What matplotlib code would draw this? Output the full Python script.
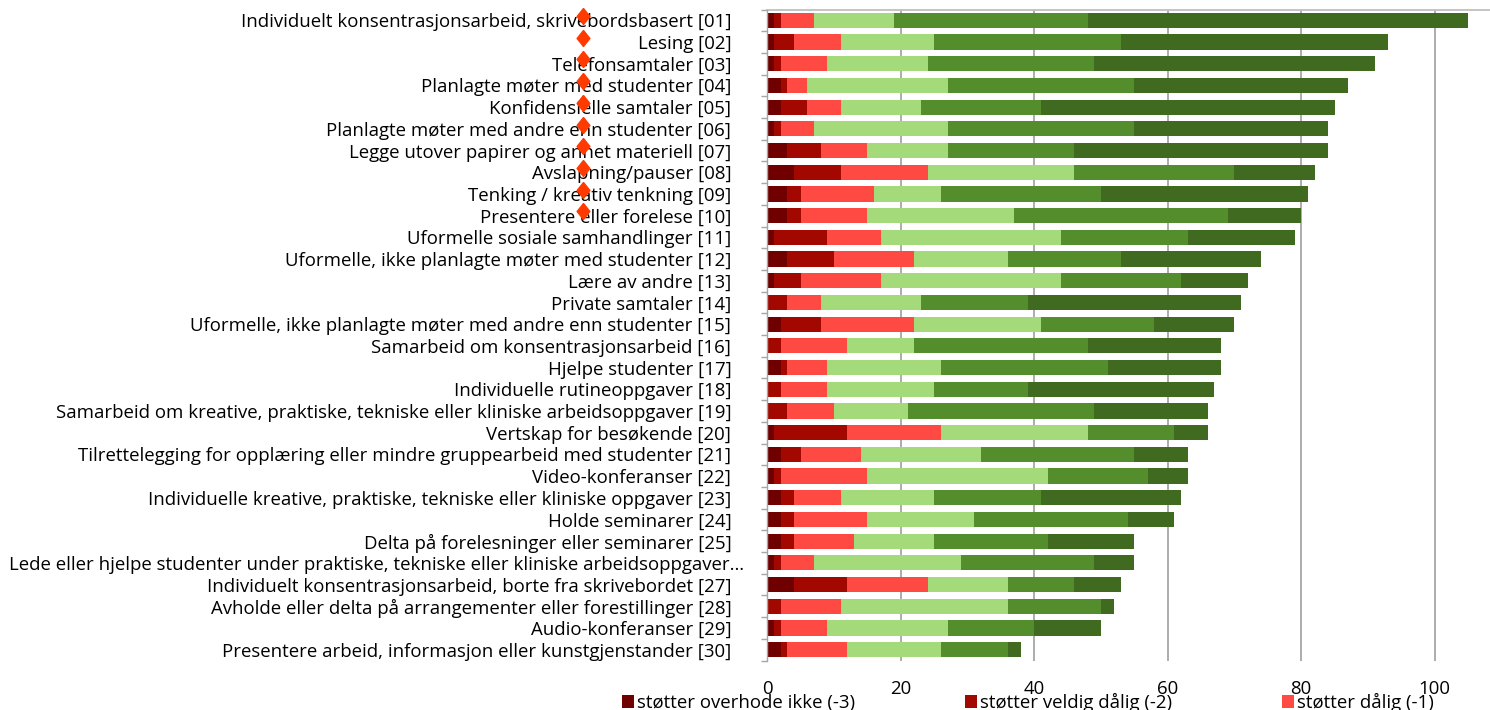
import matplotlib
matplotlib.use("Agg")
import matplotlib.pyplot as plt
from matplotlib.patches import Patch
from matplotlib.transforms import ScaledTranslation
import numpy as np

plt.rcParams['font.family'] = ['Open Sans', 'DejaVu Sans']

categories = [
    "Individuelt konsentrasjonsarbeid, skrivebordsbasert [01]",
    "Lesing [02]",
    "Telefonsamtaler [03]",
    "Planlagte møter med studenter [04]",
    "Konfidensielle samtaler [05]",
    "Planlagte møter med andre enn studenter [06]",
    "Legge utover papirer og annet materiell [07]",
    "Avslapning/pauser [08]",
    "Tenking / kreativ tenkning [09]",
    "Presentere eller forelese [10]",
    "Uformelle sosiale samhandlinger [11]",
    "Uformelle, ikke planlagte møter med studenter [12]",
    "Lære av andre [13]",
    "Private samtaler [14]",
    "Uformelle, ikke planlagte møter med andre enn studenter [15]",
    "Samarbeid om konsentrasjonsarbeid [16]",
    "Hjelpe studenter [17]",
    "Individuelle rutineoppgaver [18]",
    "Samarbeid om kreative, praktiske, tekniske eller kliniske arbeidsoppgaver [19]",
    "Vertskap for besøkende [20]",
    "Tilrettelegging for opplæring eller mindre gruppearbeid med studenter [21]",
    "Video-konferanser [22]",
    "Individuelle kreative, praktiske, tekniske eller kliniske oppgaver [23]",
    "Holde seminarer [24]",
    "Delta på forelesninger eller seminarer [25]",
    "Lede eller hjelpe studenter under praktiske, tekniske eller kliniske arbeidsoppgaver…",
    "Individuelt konsentrasjonsarbeid, borte fra skrivebordet [27]",
    "Avholde eller delta på arrangementer eller forestillinger [28]",
    "Audio-konferanser [29]",
    "Presentere arbeid, informasjon eller kunstgjenstander [30]",
]

series_names = [
    "støtter overhode ikke (-3)",
    "støtter veldig dålig (-2)",
    "støtter dålig (-1)",
    "støtter godt (1)",
    "støtter veldig godt (2)",
    "støtter svært godt (3)",
]

s_minus3 = [1, 1, 1, 2, 2, 1, 3, 4, 3, 3, 1, 3, 1, 0, 2, 0, 2, 0, 0, 1, 2, 1, 2, 2, 2, 1, 4, 0, 1, 2]
s_minus2 = [1, 3, 1, 1, 4, 1, 5, 7, 2, 2, 8, 7, 4, 3, 6, 2, 1, 2, 3, 11, 3, 1, 2, 2, 2, 1, 8, 2, 1, 1]
s_minus1 = [5, 7, 7, 3, 5, 5, 7, 13, 11, 10, 8, 12, 12, 5, 14, 10, 6, 7, 7, 14, 9, 13, 7, 11, 9, 5, 12, 9, 7, 9]
s_plus1 = [12, 14, 15, 21, 12, 20, 12, 22, 10, 22, 27, 14, 27, 15, 19, 10, 17, 16, 11, 22, 18, 27, 14, 16, 12, 22, 12, 25, 18, 14]
s_plus2 = [29, 28, 25, 28, 18, 28, 19, 24, 24, 32, 19, 17, 18, 16, 17, 26, 25, 14, 28, 13, 23, 15, 16, 23, 17, 20, 10, 14, 13, 10]
s_plus3 = [57, 40, 42, 32, 44, 29, 38, 12, 31, 11, 16, 21, 10, 32, 12, 20, 17, 28, 17, 5, 8, 6, 21, 7, 13, 6, 7, 2, 10, 2]

# red diamond markers (second series, shown for the first ten categories)
diamond_values = [-27.6, -27.6, -27.6, -27.6, -27.6, -27.6, -27.6, -27.6, -27.6, -27.6]

colors = ["#700000", "#A30800", "#FF4A44", "#A5DA7B", "#548D2C", "#3F6A20"]
x_ticks = [0, 20, 40, 60, 80, 100]
FS = 13.4

fig = plt.figure(figsize=(14.9, 7.1), dpi=100)
ax = fig.add_axes([767.4 / 1490, 1 - 660.5 / 710, 1 - 767.4 / 1490, (660.5 - 9.5) / 710])

y = np.arange(len(categories))
left = np.zeros(len(categories))
all_series = [s_minus3, s_minus2, s_minus1, s_plus1, s_plus2, s_plus3]
for vals, col, name in zip(all_series, colors, series_names):
    vals = np.array(vals, dtype=float)
    ax.barh(y, vals, left=left, height=0.7, color=col, label=name,
            edgecolor='none', zorder=3)
    left += vals

ax.set_ylim(len(categories) - 0.5, -0.5)
ax.set_xlim(0, 108.3)

ax.set_yticks(y)
ax.set_yticklabels(categories, fontsize=FS, color='#000000')
ax.set_yticks(np.arange(-0.5, len(categories) + 0.5, 1), minor=True)
ax.tick_params(axis='y', which='major', length=0, pad=26)
ax.tick_params(axis='y', which='minor', length=4, width=1, color='#A6A6A6', direction='out')

# the truncated label (with ellipsis) overflows slightly to the right, as in the original
for lbl in ax.get_yticklabels():
    if lbl.get_text().endswith("…"):
        lbl.set_transform(lbl.get_transform() + ScaledTranslation(13 / 100, 0, fig.dpi_scale_trans))

ax.set_xticks(x_ticks)
ax.set_xticklabels([str(t) for t in x_ticks], fontsize=FS)
ax.tick_params(axis='x', which='major', length=0, pad=14)

ax.grid(axis='x', color='#A6A6A6', linewidth=1.3, zorder=0)
ax.set_axisbelow(True)

for side in ['right', 'bottom']:
    ax.spines[side].set_visible(False)
ax.spines['left'].set_color('#A6A6A6')
ax.spines['left'].set_linewidth(1.0)
ax.spines['left'].set_zorder(4)
ax.spines['top'].set_color('#BFBFBF')
ax.spines['top'].set_linewidth(1.3)

diamond = [(0, 1), (0.8, 0), (0, -1), (-0.8, 0), (0, 1)]
ax.plot(diamond_values, y[:len(diamond_values)] - 0.2, linestyle='none',
        marker=diamond, markersize=11.5, color='#FF3A00', clip_on=False, zorder=10)

handles = [Patch(facecolor=c, edgecolor='none') for c in colors[:3]]
fig.legend(handles, series_names[:3], loc='upper left',
           bbox_to_anchor=(622 / 1490, 1 - 693 / 710), ncol=3, frameon=False,
           fontsize=FS, handlelength=0.62, handleheight=0.62, handletextpad=0.2,
           columnspacing=5.9, borderpad=0, borderaxespad=0)

fig.savefig("out.png", dpi=100)
